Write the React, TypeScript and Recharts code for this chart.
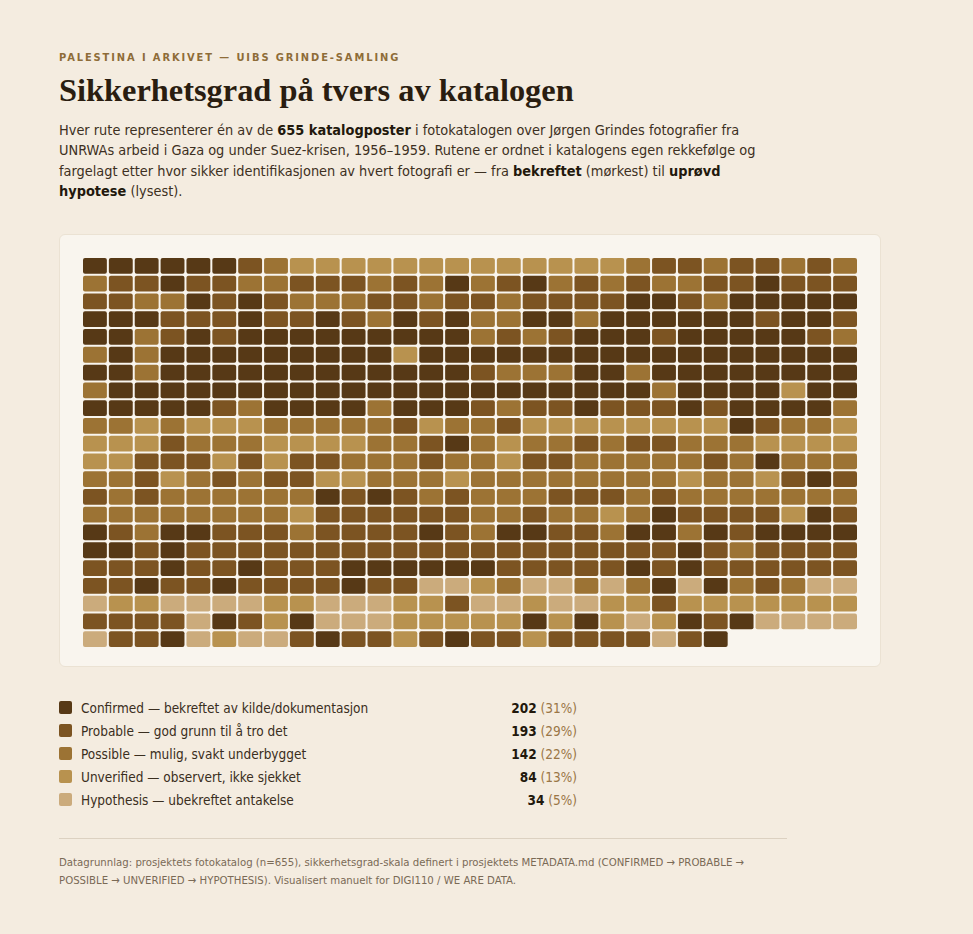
import React from "react";
import { ScatterChart, Scatter, XAxis, YAxis } from "recharts";

// Certainty levels, darkest to lightest
const LEVEL_CODES = ["C", "P", "S", "U", "H"];
const LEVEL_NAMES = ["Confirmed", "Probable", "Possible", "Unverified", "Hypothesis"];
const LEVEL_DESCS = [
  "bekreftet av kilde/dokumentasjon",
  "god grunn til å tro det",
  "mulig, svakt underbygget",
  "observert, ikke sjekket",
  "ubekreftet antakelse",
];
const LEVEL_COLORS = ["#573916", "#7c5422", "#9c7334", "#b8924f", "#cbab7c"];

// One string per row of the catalogue, 30 entries each, in catalogue order
const GRID_ROWS = [
  "CCCCCCPSUU UUUUUUUUUU USPPSPPSPS",
  "SPPCPPSSPP PSPSCSPCSP SPSSPPCPPP",
  "PPSSCPCPSS SPPSPPSPPP PCCPSCCCCC",
  "CCCPPPCPPC PSCPCSSCCS CCCCCCPCCP",
  "CCSPCPCCCC CCCCCSPSPC CCPCCCCCPS",
  "SCSCCCCCCC CCUCCCCCCC CCCCCCCCCC",
  "CCSCCCCCCC CCCCCPSSSC CSCCCCCCCC",
  "SCCCCCCCCC CCCCCCCCCC CCSCCCCUCC",
  "CCCCCPSCCC CSCCCPSPPC PPPCPCCCCS",
  "SSUSUUUSSS SSPUSSPUUU UUUUUCPSSU",
  "UUUPSSSUUU USSPCSUSSP SPPSSSUUUU",
  "UUPPPUPUPP SSSPSSUPPS SSSSPSCSSS",
  "SSPUSPSPPU USSSUSSSSS SSSUSSUPCP",
  "PSPSSSSSSC PCPSPSSSPP PSPSSSSSSS",
  "SSSSSSSSUP PPPPPSSPSS USCPPPPUCP",
  "CPSCCPPPSP PPPCPSCCPP SCCSCPCCCC",
  "CCPCPPPPPP PPPPPPPPPP PPPCPSPPPP",
  "PPPCPPCPPP CCCCCCPPPP PCPCPPPPPP",
  "PPCPPCPPPP CPPHHUSHHS HSCHCSPSHH",
  "HUUHHHHUUH HHUUPHHUHH UUPUUUUUUU",
  "PPPPHCPUCH HHUUUUUCUC UHUCPCHHHH",
  "HPPCHUHHPC PPUPCPPUPP PPHPC",
];

const COLS = 30;
const ROWS = GRID_ROWS.length;

type Cell = { x: number; y: number; level: number };

const cells: Cell[] = [];
GRID_ROWS.forEach((row, r) => {
  row
    .replace(/ /g, "")
    .split("")
    .forEach((code, c) => {
      cells.push({ x: c + 0.5, y: r + 0.5, level: LEVEL_CODES.indexOf(code) });
    });
});
const TOTAL = cells.length;
const counts = LEVEL_CODES.map((_, i) => cells.filter((d) => d.level === i).length);

const CHART_W = 776;
const CHART_H = 391;
const CELL_W = CHART_W / COLS - 2;
const CELL_H = CHART_H / ROWS - 2;

const SANS = "'DejaVu Sans Condensed', 'DejaVu Sans', sans-serif";
const SERIF = "'Liberation Serif', 'Times New Roman', serif";

function WaffleCell(props: any) {
  const { cx, cy, fill } = props;
  if (cx == null || cy == null) return null;
  return (
    <rect
      x={cx - CELL_W / 2}
      y={cy - CELL_H / 2}
      width={CELL_W}
      height={CELL_H}
      rx={2}
      ry={2}
      fill={fill}
    />
  );
}

export default function App() {
  return (
    <div
      style={{
        position: "absolute",
        left: 0,
        top: 0,
        width: 973,
        height: 934,
        background: "#f4ece0",
        fontFamily: SANS,
        color: "#3a2e20",
      }}
    >
      <div
        style={{
          position: "absolute",
          left: 59,
          top: 51,
          fontSize: 11,
          fontWeight: 700,
          letterSpacing: 1.9,
          color: "#8e6c38",
          lineHeight: "14px",
        }}
      >
        PALESTINA I ARKIVET — UIBS GRINDE-SAMLING
      </div>
      <div
        style={{
          position: "absolute",
          left: 59,
          top: 70,
          fontFamily: SERIF,
          fontSize: 32.4,
          fontWeight: 700,
          color: "#2a1d10",
          lineHeight: "40px",
        }}
      >
        Sikkerhetsgrad på tvers av katalogen
      </div>
      <div
        style={{
          position: "absolute",
          left: 59,
          top: 120,
          width: 720,
          fontSize: 14.4,
          lineHeight: "20.3px",
          color: "#3d3022",
        }}
      >
        Hver rute representerer én av de <b style={{ color: "#22180c" }}>655 katalogposter</b> i
        fotokatalogen over Jørgen Grindes fotografier fra UNRWAs arbeid i Gaza og under
        Suez-krisen, 1956–1959. Rutene er ordnet i katalogens egen rekkefølge og fargelagt etter
        hvor sikker identifikasjonen av hvert fotografi er — fra{" "}
        <b style={{ color: "#22180c" }}>bekreftet</b> (mørkest) til{" "}
        <b style={{ color: "#22180c" }}>uprøvd hypotese</b> (lysest).
      </div>

      <div
        style={{
          position: "absolute",
          left: 59,
          top: 234,
          width: 822,
          height: 433,
          boxSizing: "border-box",
          border: "1px solid #ebe2d3",
          borderRadius: 6,
          background: "#f9f5ee",
        }}
      >
        <div style={{ position: "absolute", left: 22, top: 22 }}>
          <ScatterChart
            width={CHART_W}
            height={CHART_H}
            margin={{ top: 0, right: 0, bottom: 0, left: 0 }}
          >
            <XAxis type="number" dataKey="x" domain={[0, COLS]} hide />
            <YAxis type="number" dataKey="y" domain={[0, ROWS]} reversed hide />
            {LEVEL_NAMES.map((name, i) => (
              <Scatter
                key={name}
                name={name}
                data={cells.filter((d) => d.level === i)}
                fill={LEVEL_COLORS[i]}
                shape={WaffleCell}
                isAnimationActive={false}
              />
            ))}
          </ScatterChart>
        </div>
      </div>

      <div style={{ position: "absolute", left: 59, top: 696, width: 518 }}>
        {LEVEL_NAMES.map((name, i) => (
          <div
            key={name}
            style={{
              position: "relative",
              height: 23,
              display: "flex",
              alignItems: "center",
              fontSize: 13.5,
            }}
          >
            <span
              style={{
                width: 13,
                height: 13,
                borderRadius: 2,
                background: LEVEL_COLORS[i],
                marginRight: 9,
                flex: "none",
              }}
            />
            <span style={{ color: "#3a2e20" }}>
              {name} — {LEVEL_DESCS[i]}
            </span>
            <span style={{ marginLeft: "auto" }}>
              <b style={{ color: "#22180c" }}>{counts[i]}</b>{" "}
              <span style={{ color: "#9a7646" }}>
                ({Math.round((counts[i] / TOTAL) * 100)}%)
              </span>
            </span>
          </div>
        ))}
      </div>

      <div
        style={{
          position: "absolute",
          left: 59,
          top: 838,
          width: 728,
          borderTop: "1px solid #dcd1c1",
        }}
      />
      <div
        style={{
          position: "absolute",
          left: 59,
          top: 854,
          width: 728,
          fontSize: 11.3,
          lineHeight: "18px",
          color: "#7a6a56",
        }}
      >
        Datagrunnlag: prosjektets fotokatalog (n=655), sikkerhetsgrad-skala definert i prosjektets
        METADATA.md (CONFIRMED → PROBABLE → POSSIBLE → UNVERIFIED → HYPOTHESIS). Visualisert manuelt
        for DIGI110 / WE ARE DATA.
      </div>
    </div>
  );
}
